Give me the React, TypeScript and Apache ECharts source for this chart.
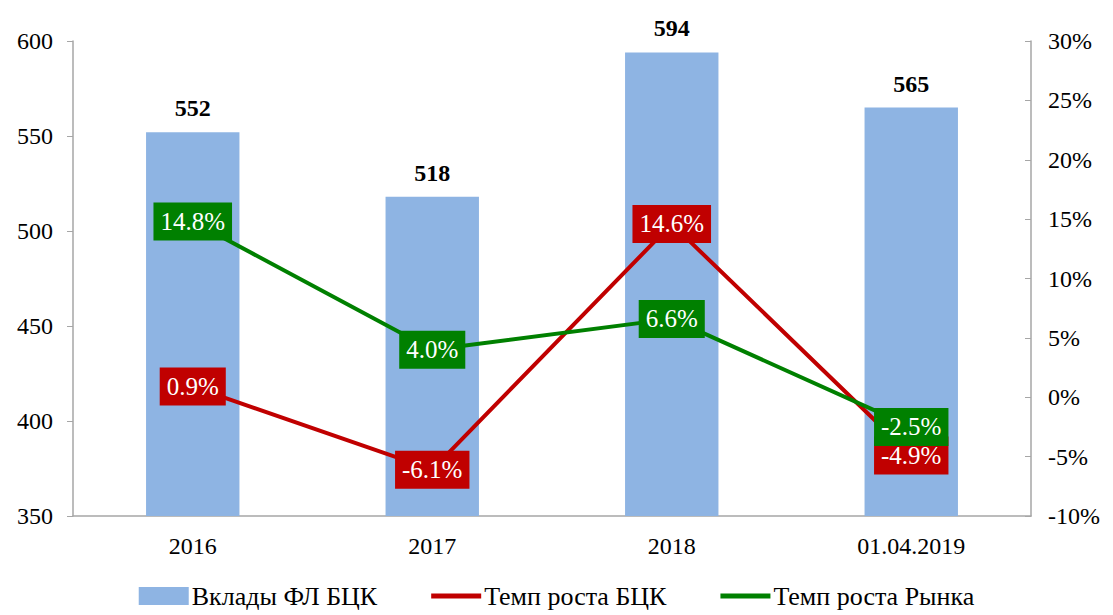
import React, { useEffect, useRef } from "react";
import * as echarts from "echarts";

const categories = ["2016", "2017", "2018", "01.04.2019"];
const deposits = [552, 518, 594, 565];
const growthBCK = [0.9, -6.1, 14.6, -4.9];
const growthMarket = [14.8, 4.0, 6.6, -2.5];
const leftTicks = { min: 350, max: 600, interval: 50 };
const rightTicks = { min: -10, max: 30, interval: 5 };

const FONT = "'Liberation Serif', 'Times New Roman', serif";

export default function App() {
  const ref = useRef<HTMLDivElement>(null);
  useEffect(() => {
    if (!ref.current) return;
    const chart = echarts.init(ref.current, undefined, { renderer: "svg" });
    const lineLabel = (color: string) => ({
      show: true,
      position: "inside" as const,
      formatter: (p: any) => Number(p.value).toFixed(1) + "%",
      color: "#fff",
      fontFamily: FONT,
      fontWeight: "normal" as const,
      fontSize: 25,
      lineHeight: 26,
      backgroundColor: color,
      padding: [6, 7, 6, 7],
    });
    const bckData = growthBCK.map((v, i) =>
      i === growthBCK.length - 1 ? { value: v, label: { offset: [0, 6] } } : v
    );
    chart.setOption({
      animation: false,
      textStyle: { fontFamily: FONT },
      grid: { left: 65, right: 74, top: 33, bottom: 99 },
      legend: {
        bottom: 1,
        left: "center",
        itemGap: 54,
        itemWidth: 50,
        itemHeight: 18,
        textStyle: { fontFamily: FONT, fontSize: 26, color: "#000", padding: [0, 0, 0, -2] },
        data: [
          { name: "Вклады ФЛ БЦК", icon: "rect" },
          { name: "Темп роста БЦК", icon: "path://M0,0 L50,0 L50,5 L0,5 Z" },
          { name: "Темп роста Рынка", icon: "path://M0,0 L50,0 L50,5 L0,5 Z" },
        ],
      },
      xAxis: {
        type: "category",
        data: categories,
        axisLine: { onZero: false, lineStyle: { color: "#A6A6A6", width: 1.5 } },
        axisTick: { show: false },
        axisLabel: { fontFamily: FONT, fontSize: 24, color: "#000", margin: 18 },
      },
      yAxis: [
        {
          type: "value",
          ...leftTicks,
          axisLine: { show: true, lineStyle: { color: "#A6A6A6", width: 1.5 } },
          axisTick: { show: true, length: 6, lineStyle: { color: "#A6A6A6" } },
          splitLine: { show: false },
          axisLabel: { fontFamily: FONT, fontSize: 24, color: "#000", margin: 20 },
        },
        {
          type: "value",
          ...rightTicks,
          position: "right",
          axisLine: { show: true, lineStyle: { color: "#A6A6A6", width: 1.5 } },
          axisTick: { show: true, inside: true, length: 6, lineStyle: { color: "#A6A6A6" } },
          splitLine: { show: false },
          axisLabel: {
            fontFamily: FONT,
            fontSize: 24,
            color: "#000",
            margin: 17,
            formatter: (v: number) => v + "%",
          },
        },
      ],
      series: [
        {
          name: "Вклады ФЛ БЦК",
          type: "bar",
          data: deposits,
          barWidth: "39%",
          itemStyle: { color: "#8EB4E3" },
          label: {
            show: true,
            position: "top",
            distance: 12,
            fontFamily: FONT,
            fontSize: 24,
            fontWeight: "bold",
            color: "#000",
          },
          z: 1,
        },
        {
          name: "Темп роста БЦК",
          type: "line",
          yAxisIndex: 1,
          data: bckData,
          symbol: "circle",
          symbolSize: 0,
          showSymbol: true,
          lineStyle: { color: "#C00000", width: 4 },
          itemStyle: { color: "#C00000" },
          label: lineLabel("#C00000"),
          labelLayout: { hideOverlap: false },
          z: 3,
        },
        {
          name: "Темп роста Рынка",
          type: "line",
          yAxisIndex: 1,
          data: growthMarket,
          symbol: "circle",
          symbolSize: 0,
          showSymbol: true,
          lineStyle: { color: "#008000", width: 4 },
          itemStyle: { color: "#008000" },
          label: lineLabel("#008000"),
          labelLayout: { hideOverlap: false },
          z: 4,
        },
      ],
    });
    return () => chart.dispose();
  }, []);
  return <div ref={ref} style={{ width: 1097, height: 607 }} />;
}
